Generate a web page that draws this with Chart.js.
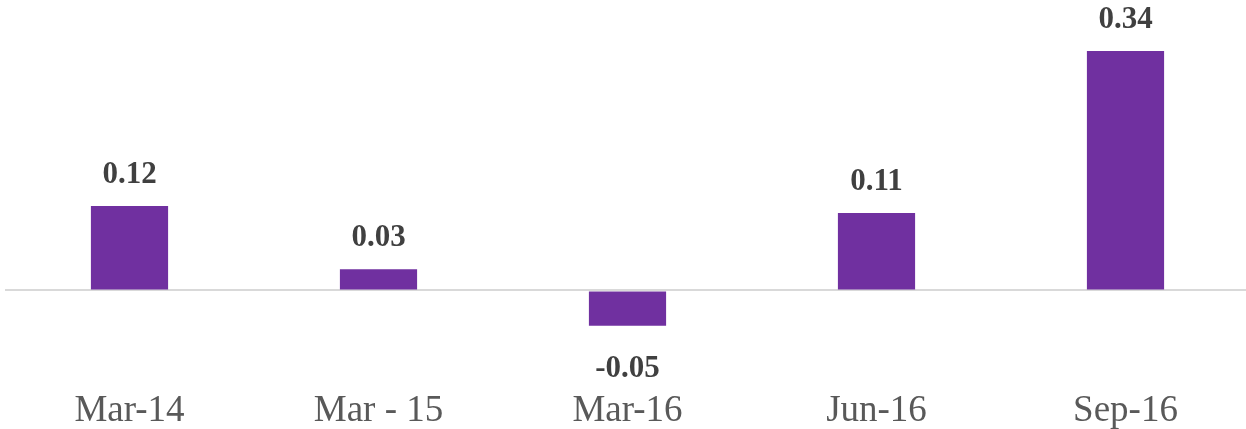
<!DOCTYPE html>
<html lang="en">
<head>
    <meta charset="UTF-8">
    <title>Quarterly change</title>
    <script src="https://cdn.jsdelivr.net/npm/chart.js"></script>
    <style>
        * {
            margin: 0;
            padding: 0;
            box-sizing: border-box;
        }

        body {
            background: #ffffff;
            overflow: hidden;
        }

        .chart-box {
            width: 1250px;
            height: 445px;
            position: relative;
        }
    </style>
</head>
<body>
    <div class="chart-box">
        <canvas id="barChart"></canvas>
    </div>

    <script>
        // data
        const categories = ['Mar-14', 'Mar - 15', 'Mar-16', 'Jun-16', 'Sep-16'];
        const values = [0.12, 0.03, -0.05, 0.11, 0.34];
        const valueLabels = ['0.12', '0.03', '-0.05', '0.11', '0.34'];

        // value labels above / below each bar
        const barLabels = {
            id: 'barLabels',
            afterDatasetsDraw(chart) {
                const ctx = chart.ctx;
                const meta = chart.getDatasetMeta(0);
                ctx.save();
                ctx.font = 'bold 31px "Liberation Serif", serif';
                ctx.fillStyle = '#404040';
                ctx.textAlign = 'center';
                ctx.textBaseline = 'alphabetic';
                meta.data.forEach((bar, i) => {
                    if (values[i] >= 0) {
                        ctx.fillText(valueLabels[i], bar.x, bar.y - 23);
                    } else {
                        ctx.fillText(valueLabels[i], bar.x, bar.y + 51);
                    }
                });
                ctx.restore();
            }
        };

        new Chart(document.getElementById('barChart').getContext('2d'), {
            type: 'bar',
            data: {
                labels: categories,
                datasets: [{
                    data: values,
                    backgroundColor: '#7030A0',
                    borderWidth: 0,
                    barPercentage: 0.31,
                    categoryPercentage: 1
                }]
            },
            options: {
                responsive: true,
                maintainAspectRatio: false,
                animation: false,
                layout: { padding: { left: 5, right: 0, top: 0, bottom: 2 } },
                scales: {
                    x: {
                        grid: { display: false },
                        border: { display: false },
                        ticks: {
                            padding: 10,
                            color: '#595959',
                            font: { family: '"Liberation Serif", serif', size: 37 }
                        }
                    },
                    y: {
                        min: -0.1138,
                        max: 0.4125,
                        afterBuildTicks: s => { s.ticks = [{ value: 0 }]; },
                        ticks: { display: false },
                        border: { display: false },
                        grid: { color: '#d9d9d9', lineWidth: 2, drawTicks: false }
                    }
                },
                plugins: {
                    legend: { display: false },
                    tooltip: { enabled: false }
                }
            },
            plugins: [barLabels]
        });
    </script>
</body>
</html>
